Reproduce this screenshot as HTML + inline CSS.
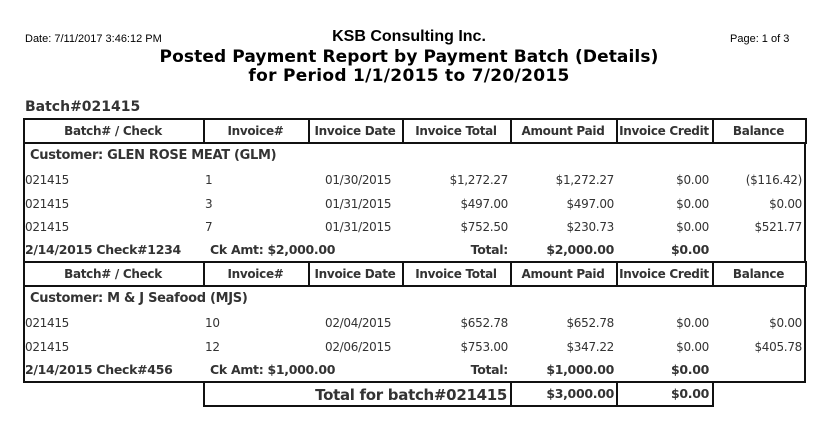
<!DOCTYPE html>
<html><head><meta charset="utf-8"><style>
body{margin:0;width:815px;height:429px;background:#fff;position:relative;overflow:hidden;font-family:"DejaVu Sans","Liberation Sans",sans-serif;color:#333}
.a{position:absolute;white-space:nowrap;line-height:14px}
.b{font-weight:bold}
.r{text-align:right}
.c{text-align:center}
.ln{position:absolute;background:#111}
.t{font-size:12px;letter-spacing:-0.3px}
</style></head><body>
<div class="a" style="left:25px;top:33px;font:11px 'Liberation Sans',sans-serif;color:#000">Date: 7/11/2017 3:46:12 PM</div>
<div class="a" style="left:730px;top:33px;font:11px 'Liberation Sans',sans-serif;color:#000">Page: 1 of 3</div>
<div class="a c b" style="left:209px;width:400px;top:27px;font-size:16px;line-height:20px;color:#000;font-family:'Liberation Sans',sans-serif">KSB Consulting Inc.</div>
<div class="a c b" style="left:109px;width:600px;top:47px;font-size:17px;line-height:20px;color:#000;letter-spacing:0.1px">Posted Payment Report by Payment Batch (Details)</div>
<div class="a c b" style="left:109px;width:600px;top:66px;font-size:17px;line-height:20px;color:#000;letter-spacing:0.3px">for Period 1/1/2015 to 7/20/2015</div>
<div class="a b" style="left:25px;top:99px;font-size:14px;line-height:16px">Batch#021415</div>
<div id="tbl"></div>
<script>
const cols=[23,203,308,402,510,616,712,805];
const headers=["Batch# / Check","Invoice#","Invoice Date","Invoice Total","Amount Paid","Invoice Credit","Balance"];
const cust1="Customer: GLEN ROSE MEAT (GLM)";
const rows1=[["021415","1","01/30/2015","$1,272.27","$1,272.27","$0.00","($116.42)"],["021415","3","01/31/2015","$497.00","$497.00","$0.00","$0.00"],["021415","7","01/31/2015","$752.50","$230.73","$0.00","$521.77"]];
const foot1=["2/14/2015  Check#1234","Ck Amt: $2,000.00","Total:","$2,000.00","$0.00"];
const cust2="Customer: M & J Seafood (MJS)";
const rows2=[["021415","10","02/04/2015","$652.78","$652.78","$0.00","$0.00"],["021415","12","02/06/2015","$753.00","$347.22","$0.00","$405.78"]];
const foot2=["2/14/2015  Check#456","Ck Amt: $1,000.00","Total:","$1,000.00","$0.00"];
const grand=["Total for batch#021415","$3,000.00","$0.00"];
const B=document.body;
function line(x,y,w,h){const d=document.createElement('div');d.className='ln';d.style.cssText=`left:${x}px;top:${y}px;width:${w}px;height:${h}px`;


B.appendChild(d);}
function txt(s,x,y,w,al,bold,size){const d=document.createElement('div');d.className='a t'+(bold?' b':'');d.textContent=s;d.style.left=x+'px';d.style.top=(y-7)+'px';if(w){d.style.width=w+'px';d.style.textAlign=al;}if(size)d.style.fontSize=size+'px';


B.appendChild(d);return d;}
function header(y){line(23,y,783,2);line(23,y+24,783,2);
for(const x of cols)line(x,y,2,26);
headers.forEach((h,i)=>{const d=txt(h,cols[i],y+13,cols[i+1]-cols[i],'center',true);
});}
const lefts=[25,205,325];const rights=[508,614,709,802];
function dataRow(r,y){for(let i=0;i<3;i++)txt(r[i],lefts[i],y);for(let i=3;i<7;i++)txt(r[i],rights[i-3]-150,y,150,'right');}
function foot(f,y){txt(f[0],25,y,0,'',true,12.5);txt(f[1],210,y,0,'',true,12.5);txt(f[2],rights[0]-150,y,150,'right',true,12.5);txt(f[3],rights[1]-150,y,150,'right',true,12.5);txt(f[4],rights[2]-150,y,150,'right',true,12.5);}
header(118);
txt(cust1,30,156,0,'',true,13);
let ys=[180,204,227];rows1.forEach((r,i)=>dataRow(r,ys[i]));
foot(foot1,250);
line(23,142,2,120);line(804,142,2,120);
header(261);
txt(cust2,30,299,0,'',true,13);
ys=[323,347];rows2.forEach((r,i)=>dataRow(r,ys[i]));
foot(foot2,370);
line(23,285,2,97);line(804,285,2,97);line(23,381,783,2);
line(203,381,2,26);line(510,381,2,26);line(616,381,2,26);line(712,381,2,26);line(203,405,511,2);
const g=txt(grand[0],205,395,302,'right',true,15);

g.style.top='386px';g.style.lineHeight='18px';
txt(grand[1],rights[1]-150,394,150,'right',true,12.5);
txt(grand[2],rights[2]-150,394,150,'right',true,12.5);
</script>
</body></html>
